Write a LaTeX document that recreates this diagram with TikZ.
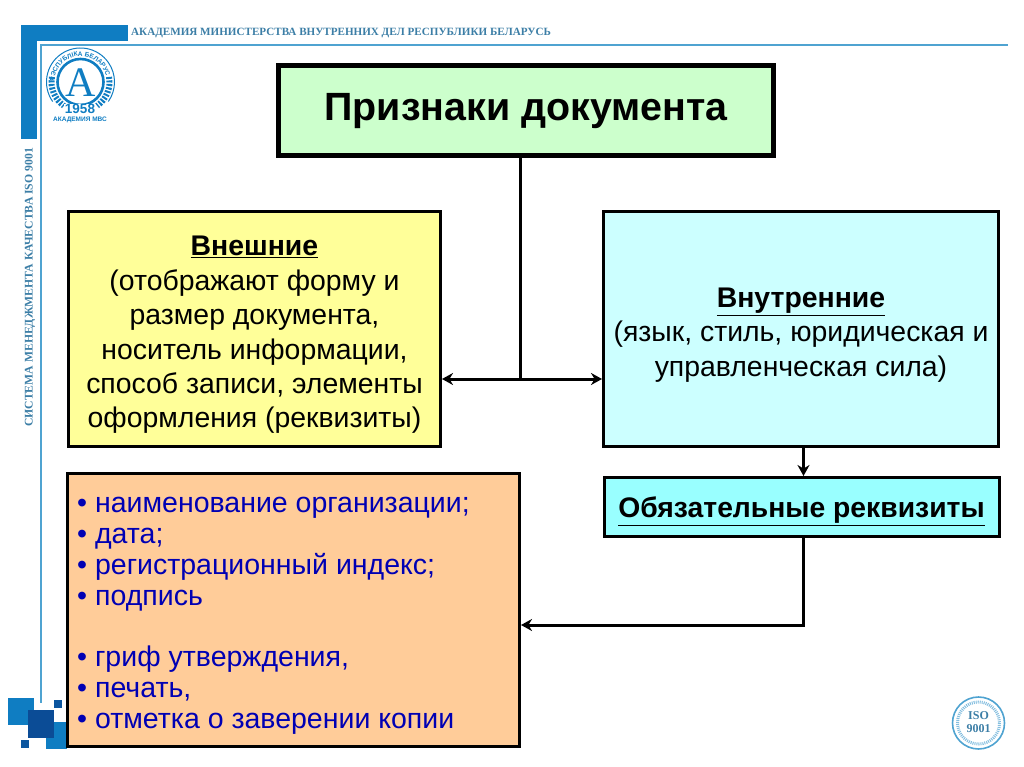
\documentclass[tikz,border=0pt]{standalone}
\usepackage{fontspec}
\setmainfont{Liberation Sans}
\newfontfamily\serifcaps{Liberation Serif}
\usetikzlibrary{arrows.meta,decorations.text}
\definecolor{framebar}{HTML}{0F7DC2}
\definecolor{frameline}{HTML}{4FA3D1}
\definecolor{captiontext}{HTML}{3C7EA6}
\definecolor{squaredark}{HTML}{0B4C96}
\definecolor{listtext}{HTML}{0000B4}
\tikzset{
  sizebox/.style={draw,line width=3pt,align=center,inner sep=0pt,font=\fontsize{28.4}{34.4}\selectfont},
  arr/.style={line width=3pt,-{Stealth[length=11pt,width=12pt]}},
  arrboth/.style={line width=3pt,{Stealth[length=11pt,width=12pt]}-{Stealth[length=11pt,width=12pt]}},
  plain/.style={line width=3pt}
}
\begin{document}
\begin{tikzpicture}[x=1pt,y=-1pt]
  \useasboundingbox (0,0) rectangle (1024,767);
  % frame
  \fill [framebar] (21,25) rectangle (128,41);
  \fill [framebar] (21,25) rectangle (37,139);
  \draw [frameline,line width=1.8pt] (1008,45) -- (41,45) -- (41,703);
  \node [anchor=west,inner sep=0pt,text=captiontext,font=\serifcaps\bfseries\fontsize{11.1}{12}\selectfont] (caption) at (131,33) {АКАДЕМИЯ МИНИСТЕРСТВА ВНУТРЕННИХ ДЕЛ РЕСПУБЛИКИ БЕЛАРУСЬ};
  \node [rotate=90,anchor=west,inner sep=0pt,text=captiontext,font=\serifcaps\bfseries\fontsize{11.7}{12}\selectfont] (sidecaption) at (30,427) {СИСТЕМА МЕНЕДЖМЕНТА КАЧЕСТВА ISO 9001};
  % squares
  \fill [framebar] (8,698) rectangle (34,725);
  \fill [framebar] (46,722) rectangle (67,749);
  \fill [squaredark] (28,710) rectangle (54,738);
  \fill [squaredark!80!framebar] (54,700) rectangle (62,708);
  \fill [squaredark!80!framebar] (21,740) rectangle (29,748);
  % academy badge
  \draw [framebar,line width=2.6pt] (80.5,82) circle (23);
  \draw [framebar,line width=1pt] (80.5,82) ++(-215:34) arc (-215:35:34);
  \draw [framebar,line width=6pt,dash pattern=on 2pt off 1.5pt] (80.5,82) ++(190:29) arc (190:125:29);
  \draw [framebar,line width=6pt,dash pattern=on 2pt off 1.5pt] (80.5,82) ++(-10:29) arc (-10:55:29);
  \path [postaction={decorate,decoration={text along path,text align=center,text={|\bfseries\fontsize{6.5}{7}\selectfont\color{framebar}|РЭСПУБЛІКА БЕЛАРУСЬ}}}] (80.5,82) ++(-170:26) arc (-170:-10:26);
  \node [text=framebar,inner sep=0pt,font=\serifcaps\fontsize{42}{42}\selectfont] (badgeletter) at (80.5,83) {A};
  \node [text=framebar,fill=white,inner sep=.5pt,font=\bfseries\fontsize{13.5}{13.5}\selectfont] (badgeyear) at (80,109) {1958};
  \node [text=framebar,inner sep=0pt,font=\bfseries\fontsize{6.5}{6.5}\selectfont] (badgename) at (80,120) {АКАДЕМИЯ МВС};
  % iso badge
  \draw [frameline,line width=1.6pt] (978.5,723) circle (26);
  \draw [frameline!70,line width=3pt,dash pattern=on 1pt off 1pt] (978.5,723) circle (21);
  \node [text=captiontext,align=center,inner sep=0pt,font=\serifcaps\bfseries\fontsize{12}{13}\selectfont] (isotext) at (978.5,722) {ISO\\9001};
  % boxes
  \node [sizebox,line width=5pt,fill={rgb,255:red,204;green,255;blue,204},minimum width=495pt,minimum height=90pt,font=\bfseries\fontsize{39.4}{44}\selectfont] (title) at (526,111) {Признаки документа};
  \node [sizebox,fill={rgb,255:red,255;green,255;blue,153},minimum width=372pt,minimum height=235pt] (outer) at (254.5,329) {};
  \node [align=center,inner sep=0pt,font=\fontsize{28.4}{34.4}\selectfont] (outertext) at (254.5,335) {\underline{\textbf{Внешние}}\\(отображают форму и\\размер документа,\\носитель информации,\\способ записи, элементы\\оформления (реквизиты)};
  \node [sizebox,fill={rgb,255:red,204;green,255;blue,255},minimum width=395pt,minimum height=235pt] (inner) at (801,329) {};
  \node [align=center,inner sep=0pt,font=\fontsize{28.4}{34.4}\selectfont] (innertext) at (801,335) {\underline{\textbf{Внутренние}}\\(язык, стиль, юридическая и\\управленческая сила)};
  \node [sizebox,fill={rgb,255:red,153;green,255;blue,255},minimum width=395pt,minimum height=59pt] (required) at (801.5,506.5) {};
  \node [inner sep=0pt,font=\bfseries\fontsize{28.3}{30}\selectfont] (requiredtext) at (801.5,511) {\underline{Обязательные реквизиты}};
  \node [sizebox,fill={rgb,255:red,255;green,204;blue,153},minimum width=452pt,minimum height=273pt] (list) at (293.5,610) {};
  \node [anchor=west,inner sep=0pt,align=left,text=listtext,font=\fontsize{28.5}{30.8}\selectfont] (listtext) at (77,616) {• наименование организации;\\• дата;\\• регистрационный индекс;\\• подпись\\[30.8pt]• гриф утверждения,\\• печать,\\• отметка о заверении копии};
  % connectors
  \coordinate (joint) at (520,379);
  \draw [plain] (title.south -| joint) -- (joint);
  \draw [arrboth] (outer.east |- joint) -- (inner.west |- joint);
  \draw [arr] (inner.south) ++(2.5,0) -- ++(0,28);
  \coordinate (bend) at (803,625);
  \draw [arr] (required.south -| bend) -- (bend) -- (list.east |- bend);
\end{tikzpicture}
\end{document}
